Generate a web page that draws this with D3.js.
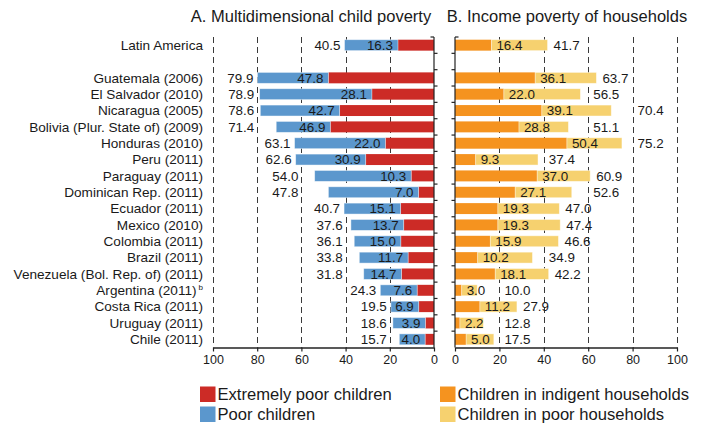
<!DOCTYPE html>
<html>
<head>
<meta charset="utf-8">
<script src="https://cdn.jsdelivr.net/npm/d3@7"></script>
<style>
  body { margin: 0; background: #fff; }
  svg { display: block; }
  text { font-family: "Liberation Sans", Arial, Helvetica, sans-serif; fill: #1a1a1a; }
</style>
</head>
<body>
<svg id="chart" width="702" height="424"></svg>
<script>
// Regional aggregate first, then countries (survey year in brackets)
const categories = [
  "Latin America",
  "Guatemala (2006)",
  "El Salvador (2010)",
  "Nicaragua (2005)",
  "Bolivia (Plur. State of) (2009)",
  "Honduras (2010)",
  "Peru (2011)",
  "Paraguay (2011)",
  "Dominican Rep. (2011)",
  "Ecuador (2011)",
  "Mexico (2010)",
  "Colombia (2011)",
  "Brazil (2011)",
  "Venezuela (Bol. Rep. of) (2011)",
  "Argentina (2011)",
  "Costa Rica (2011)",
  "Uruguay (2011)",
  "Chile (2011)"
];
const footnoteMarks = ["", "", "", "", "", "", "", "", "", "", "", "", "", "", "b", "", "", ""];

// A. Multidimensional child poverty (%): total poor children (incl. extreme) and extremely poor
const poorChildrenTotal = [40.5, 79.9, 78.9, 78.6, 71.4, 63.1, 62.6, 54.0, 47.8, 40.7, 37.6, 36.1, 33.8, 31.8, 24.3, 19.5, 18.6, 15.7];
const extremelyPoorChildren = [16.3, 47.8, 28.1, 42.7, 46.9, 22.0, 30.9, 10.3, 7.0, 15.1, 13.7, 15.0, 11.7, 14.7, 7.6, 6.9, 3.9, 4.0];

// B. Income poverty of households (%): indigent and total poor households
const indigentHouseholds = [16.4, 36.1, 22.0, 39.1, 28.8, 50.4, 9.3, 37.0, 27.1, 19.3, 19.3, 15.9, 10.2, 18.1, 3.0, 11.2, 2.2, 5.0];
const poorHouseholdsTotal = [41.7, 63.7, 56.5, 70.4, 51.1, 75.2, 37.4, 60.9, 52.6, 47.0, 47.4, 46.6, 34.9, 42.2, 10.0, 27.9, 12.8, 17.5];

const leftTicks = [100, 80, 60, 40, 20, 0];
const rightTicks = [0, 20, 40, 60, 80, 100];
const gridValues = [20, 40, 60, 80, 100];

const panelTitles = ["A. Multidimensional child poverty", "B. Income poverty of households"];
const legendLeft = ["Extremely poor children", "Poor children"];
const legendRight = ["Children in indigent households", "Children in poor households"];

const colors = {
  extreme: "#cc2b26",
  poor: "#5b97cd",
  indigent: "#f5931f",
  poorHh: "#f6d16f",
  axis: "#222222",
  grid: "#3a3a3a"
};

const rows = categories.map((c, i) => ({
  name: c,
  mark: footnoteMarks[i],
  total: poorChildrenTotal[i],
  extreme: extremelyPoorChildren[i],
  indigent: indigentHouseholds[i],
  poorHh: poorHouseholdsTotal[i]
}));

const svg = d3.select("#chart");
const TOP = 37, BOTTOM = 347.5;
const SPACER = "\u2003spacer";

// one empty slot separates the regional aggregate from the countries
const y = d3.scaleBand()
  .domain([categories[0], SPACER, ...categories.slice(1)])
  .range([TOP, BOTTOM])
  .paddingInner(0.33)
  .paddingOuter(0.165);

const xL = d3.scaleLinear().domain([0, 100]).range([434, 213]);
const xR = d3.scaleLinear().domain([0, 100]).range([455, 677]);

// panel titles
svg.append("text").attr("x", 311).attr("y", 22).attr("text-anchor", "middle")
  .attr("font-size", 16.5).text(panelTitles[0]);
svg.append("text").attr("x", 567).attr("y", 22).attr("text-anchor", "middle")
  .attr("font-size", 16.5).text(panelTitles[1]);

// dashed vertical gridlines (behind the bars)
const grid = svg.append("g").attr("stroke", colors.grid).attr("stroke-width", 1)
  .attr("stroke-dasharray", "6,4");
grid.selectAll("line.l").data(gridValues).join("line").attr("class", "l")
  .attr("x1", d => Math.round(xL(d)) + 0.5).attr("x2", d => Math.round(xL(d)) + 0.5)
  .attr("y1", TOP).attr("y2", BOTTOM);
grid.selectAll("line.r").data(gridValues).join("line").attr("class", "r")
  .attr("x1", d => Math.round(xR(d)) + 0.5).attr("x2", d => Math.round(xR(d)) + 0.5)
  .attr("y1", TOP).attr("y2", BOTTOM);

// category labels
const catG = svg.append("g");
rows.forEach(r => {
  const t = catG.append("text")
    .attr("x", 203).attr("y", y(r.name) + y.bandwidth() / 2)
    .attr("dy", "0.35em").attr("text-anchor", "end").attr("font-size", 13.6)
    .text(r.name);
  if (r.mark) {
    t.append("tspan").attr("font-size", 8).attr("dy", "-0.6em").attr("dx", 2).text(r.mark);
  }
});

const barStroke = "rgba(255,255,255,0.55)";

// panel A bars
const gA = svg.append("g");
gA.selectAll("rect.ext").data(rows).join("rect").attr("class", "ext")
  .attr("x", d => xL(d.extreme)).attr("width", d => xL(0) - xL(d.extreme))
  .attr("y", d => y(d.name)).attr("height", y.bandwidth())
  .attr("fill", colors.extreme);
gA.selectAll("rect.poor").data(rows).join("rect").attr("class", "poor")
  .attr("x", d => xL(d.total)).attr("width", d => xL(d.extreme) - xL(d.total))
  .attr("y", d => y(d.name)).attr("height", y.bandwidth())
  .attr("fill", colors.poor).attr("stroke", barStroke).attr("stroke-width", 0.8);

// panel B bars
const gB = svg.append("g");
gB.selectAll("rect.ind").data(rows).join("rect").attr("class", "ind")
  .attr("x", xR(0)).attr("width", d => xR(d.indigent) - xR(0))
  .attr("y", d => y(d.name)).attr("height", y.bandwidth())
  .attr("fill", colors.indigent);
gB.selectAll("rect.phh").data(rows).join("rect").attr("class", "phh")
  .attr("x", d => xR(d.indigent)).attr("width", d => xR(d.poorHh) - xR(d.indigent))
  .attr("y", d => y(d.name)).attr("height", y.bandwidth())
  .attr("fill", colors.poorHh).attr("stroke", barStroke).attr("stroke-width", 0.8);

// value labels
const fmt = d3.format(".1f");
const gridXL = gridValues.map(v => xL(v));
const gridXR = gridValues.map(v => xR(v));
const lab = svg.append("g").attr("font-size", 13.4);

rows.forEach(r => {
  const cy = y(r.name) + y.bandwidth() / 2;

  // extreme share, right-aligned just inside the blue bar
  lab.append("text").attr("x", xL(r.extreme) - 5).attr("y", cy).attr("dy", "0.36em")
    .attr("text-anchor", "end").text(fmt(r.extreme));

  // total poor children, left of the bar, nudged clear of gridlines
  const tl = lab.append("text").attr("y", cy).attr("dy", "0.36em").attr("text-anchor", "end")
    .text(fmt(r.total));
  const wl = tl.node().getComputedTextLength();
  const barEndL = xL(r.total);
  let endL = barEndL - 4;
  gridXL.forEach(g => {
    if (g > endL - wl + 2 && g < barEndL) endL = Math.min(endL, g - 3);
  });
  tl.attr("x", endL);

  // indigent share, just past the orange bar
  lab.append("text").attr("x", xR(r.indigent) + 5).attr("y", cy).attr("dy", "0.36em")
    .text(fmt(r.indigent));

  // total poor households, right of the bar, nudged clear of gridlines
  const tr = lab.append("text").attr("y", cy).attr("dy", "0.36em").text(fmt(r.poorHh));
  const wr = tr.node().getComputedTextLength();
  const barEndR = xR(r.poorHh);
  let startR = barEndR + 6;
  gridXR.forEach(g => {
    if (g > barEndR && g < startR + wr - 7) startR = Math.max(startR, g + 5);
  });
  tr.attr("x", startR);
});

// category axes: solid line with separators at slot boundaries
const step = y.step();
const boundaries = d3.range(0, y.domain().length + 1).map(k => TOP + k * step);
function catAxis(x0, dir) {
  const g = svg.append("g").attr("stroke", colors.axis).attr("stroke-width", 1.2);
  g.append("line").attr("x1", x0).attr("x2", x0).attr("y1", TOP).attr("y2", BOTTOM);
  g.selectAll("line.tk").data(boundaries.slice(0, -1)).join("line").attr("class", "tk")
    .attr("x1", x0).attr("x2", (d, i) => x0 + (i === 0 ? -dir : dir) * 3.5)
    .attr("y1", d => d).attr("y2", d => d);
}
catAxis(434, 1);
catAxis(455, -1);

// value axes
function valueAxis(scale, ticks) {
  const g = svg.append("g").attr("transform", `translate(0,${BOTTOM})`)
    .call(d3.axisBottom(scale).tickValues(ticks).tickSize(4).tickSizeOuter(0).tickPadding(4)
      .tickFormat(d3.format("d")));
  g.select(".domain").attr("stroke", colors.axis).attr("stroke-width", 1.4);
  g.selectAll(".tick line").attr("stroke", colors.axis).attr("stroke-width", 1.2);
  g.selectAll(".tick text").attr("font-size", 12.5).attr("fill", "#1a1a1a")
    .attr("font-family", "\"Liberation Sans\", Arial, sans-serif");
}
valueAxis(xL, leftTicks);
valueAxis(xR, rightTicks);

// legend
function legendItem(x, yTop, color, label) {
  svg.append("rect").attr("x", x).attr("y", yTop).attr("width", 15.5).attr("height", 15.5)
    .attr("fill", color);
  svg.append("text").attr("x", x + 17.5).attr("y", yTop + 13).attr("font-size", 16.6).text(label);
}
legendItem(200, 386.5, colors.extreme, legendLeft[0]);
legendItem(200, 406.5, colors.poor, legendLeft[1]);
legendItem(440, 386.5, colors.indigent, legendRight[0]);
legendItem(440, 406.5, colors.poorHh, legendRight[1]);
</script>
</body>
</html>
